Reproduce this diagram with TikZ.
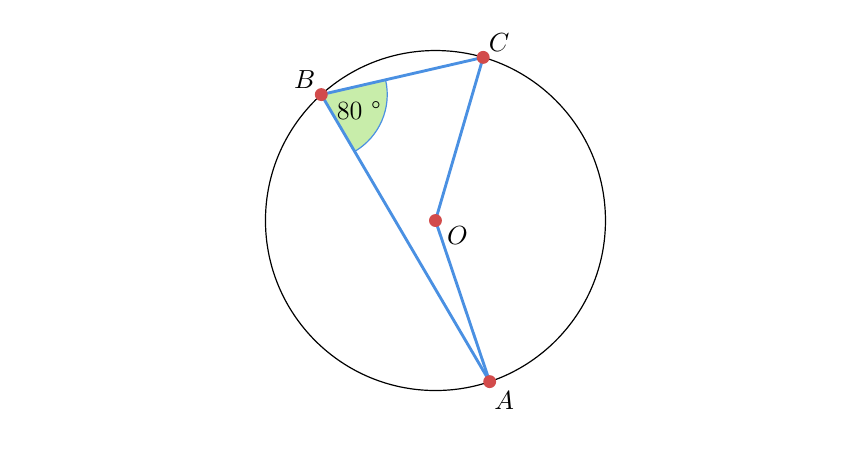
\documentclass[tikz,border=0pt]{standalone}
\usetikzlibrary{angles,quotes}
\definecolor{segblue}{RGB}{74,144,226}
\definecolor{ptred}{RGB}{210,75,75}
\definecolor{anggreen}{RGB}{200,237,170}
\begin{document}
\begin{tikzpicture}[seg/.style={segblue, line width=1.2pt},
  pt/.style={circle, fill=ptred, inner sep=0pt, minimum size=0.19cm},
  lbl/.style={inner sep=1pt, font=\fontsize{11}{13}\selectfont}]
\useasboundingbox (-6.404,-3.404) rectangle (6.243,3.243);

\draw [line width=0.5pt] (0,0) circle (2.5);

\coordinate (O) at (0,0);
\coordinate (A) at (-71.4:2.5);
\coordinate (B) at (132.2:2.5);
\coordinate (C) at (73.7:2.5);

\pic [draw=segblue, line width=0.5pt, fill=anggreen, angle radius=0.97cm,
  angle eccentricity=0.62, "80 \textdegree"{lbl}] {angle=A--B--C};

\draw [seg] (B) -- (C);
\draw [seg] (B) -- (A);
\draw [seg] (C) -- (O);
\draw [seg] (O) -- (A);

\node (O-pt) at (O) [pt, label={[lbl, label distance=1pt]-20:$O$}]{};
\node (A-pt) at (A) [pt, label={[lbl, label distance=0pt]-75:$A$}]{};
\node (B-pt) at (B) [pt, label={[lbl, label distance=-1pt]135:$B$}]{};
\node (C-pt) at (C) [pt, label={[lbl, label distance=-1pt]50:$C$}]{};
\end{tikzpicture}
\end{document}
